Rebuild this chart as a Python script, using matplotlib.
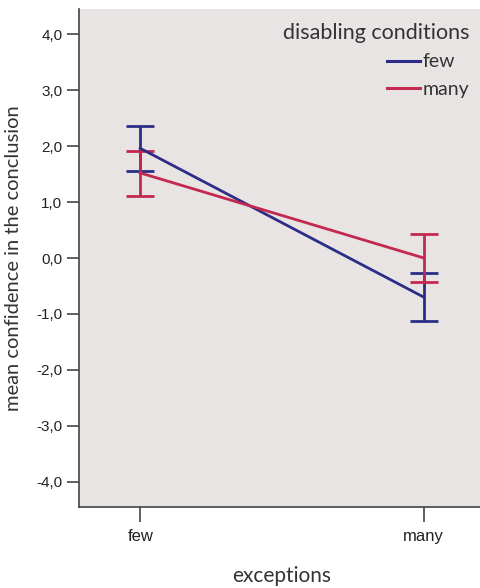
import numpy as np
import matplotlib
matplotlib.use("Agg")
import matplotlib.pyplot as plt
from matplotlib.ticker import FuncFormatter
from matplotlib.lines import Line2D

# data
exceptions = ["few", "many"]
series_names = ["few", "many"]  # disabling conditions
few_mean = [1.96, -0.70]
few_lo = [1.56, -1.13]
few_hi = [2.36, -0.27]
many_mean = [1.52, 0.0]
many_lo = [1.11, -0.43]
many_hi = [1.92, 0.42]
yticks = [4, 3, 2, 1, 0, -1, -2, -3, -4]

colors = {"few": "#2d2c86", "many": "#c3284f"}

fig = plt.figure(figsize=(4.8, 5.88), dpi=100)
ax = fig.add_axes([79 / 480, 1 - 507 / 588, 1 - 79 / 480 + 0.01, 498 / 588])
ax.set_facecolor("#e8e4e4")

x = np.arange(len(exceptions))
for name, m, lo, hi in [("few", few_mean, few_lo, few_hi),
                        ("many", many_mean, many_lo, many_hi)]:
    m = np.array(m)
    err = [m - np.array(lo), np.array(hi) - m]
    ax.errorbar(x, m, yerr=err, color=colors[name], lw=2.0, capsize=10,
                capthick=2.0, elinewidth=2.0)

ax.set_xlim(-0.216, 1.215)
ax.set_ylim(-4.45, 4.45)
ax.set_xticks(x)
ax.set_xticklabels(exceptions, family="Liberation Sans")
ax.set_yticks(yticks)
ax.yaxis.set_major_formatter(FuncFormatter(lambda v, p: ("%.1f" % v).replace(".", ",")))
for t in ax.get_yticklabels():
    t.set_family("Liberation Sans")

for s in ["left", "bottom"]:
    ax.spines[s].set_color("#444444")
    ax.spines[s].set_linewidth(1.2)
for s in ["top", "right"]:
    ax.spines[s].set_visible(False)
ax.tick_params(axis="y", direction="out", length=9, width=1.2, color="#444444",
               labelsize=11, labelcolor="#222222", pad=3)
ax.tick_params(axis="x", direction="out", length=11, width=1.2, color="#444444",
               labelsize=12, labelcolor="#222222", pad=5)

ax.set_xlabel("exceptions", fontsize=15, color="#333333", labelpad=16, family="Lato")
ax.set_ylabel("mean confidence in the conclusion", fontsize=14.5, color="#333333",
              labelpad=10, family="Lato")

handles = [Line2D([], [], color=colors[n], lw=2.2) for n in series_names]
leg = ax.legend(handles, series_names, title="disabling conditions", loc="upper right",
                frameon=False, handlelength=1.7, handletextpad=0.15,
                borderaxespad=0.3, labelspacing=0.55, alignment="right",
                bbox_to_anchor=(0.995, 1.0),
                prop={"family": "Lato", "size": 14})
leg.get_title().set_family("Lato")
leg.get_title().set_fontsize(15.5)
leg.get_title().set_color("#333333")
for t in leg.get_texts():
    t.set_color("#333333")

fig.savefig("out.png", dpi=100)
